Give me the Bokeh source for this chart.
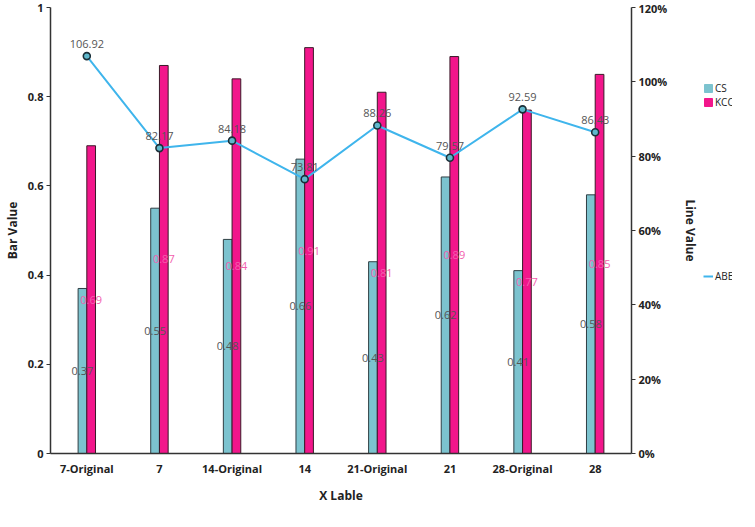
from bokeh.plotting import figure
from bokeh.layouts import row
from bokeh.models import (ColumnDataSource, FactorRange, Range1d, LinearAxis, FixedTicker,
                          PrintfTickFormatter, Legend, LegendItem)
from bokeh.transform import dodge
from bokeh.core.properties import value
from bokeh.embed import file_html
from bokeh.resources import INLINE

categories = ["7-Original", "7", "14-Original", "14", "21-Original", "21", "28-Original", "28"]
cs = [0.37, 0.55, 0.48, 0.66, 0.43, 0.62, 0.41, 0.58]
kcc = [0.69, 0.87, 0.84, 0.91, 0.81, 0.89, 0.77, 0.85]
abe = [106.92, 82.17, 84.18, 73.81, 88.26, 79.57, 92.59, 86.43]
left_ticks = [0, 0.2, 0.4, 0.6, 0.8, 1]
right_ticks = [0, 20, 40, 60, 80, 100, 120]

CS_COLOR = "#7cc3cf"
KCC_COLOR = "#f2168b"
LINE_COLOR = "#3fb5ec"
FONT = "Open Sans"
H = 506

src = ColumnDataSource(dict(
    x=categories, cs=cs, kcc=kcc, abe=abe,
    cs_mid=[v / 2 for v in cs], kcc_mid=[v / 2 for v in kcc],
    cs_lab=[f"{v:.2f}" for v in cs], kcc_lab=[f"{v:.2f}" for v in kcc],
    abe_lab=[f"{v:.2f}" for v in abe],
))

p = figure(width=702, height=H, x_range=FactorRange(*categories, range_padding=0),
           y_range=Range1d(0, 1), output_backend="svg", toolbar_location=None,
           min_border_left=40, min_border_right=62, min_border_top=7, min_border_bottom=40)
p.extra_y_ranges = {"line": Range1d(0, 120)}
p.outline_line_color = None
p.grid.grid_line_color = None
p.background_fill_color = "white"

p.vbar(x=dodge("x", -0.06, range=p.x_range), top="cs", width=0.12, source=src,
       fill_color=CS_COLOR, line_color="#2f3f44", line_width=1)
p.vbar(x=dodge("x", 0.06, range=p.x_range), top="kcc", width=0.12, source=src,
       fill_color=KCC_COLOR, line_color="#3a1a28", line_width=1)

p.text(x=dodge("x", -0.06, range=p.x_range), y="cs_mid", text="cs_lab", source=src,
       text_align="center", text_baseline="middle", text_font=value(FONT),
       text_font_size="11px", text_color="#555555")
p.text(x=dodge("x", 0.06, range=p.x_range), y="kcc_mid", text="kcc_lab", source=src,
       text_align="center", text_baseline="middle", text_font=value(FONT),
       text_font_size="11px", text_color="#f25fae")

p.line(x="x", y="abe", source=src, y_range_name="line", line_color=LINE_COLOR, line_width=2)
p.scatter(x="x", y="abe", source=src, y_range_name="line", size=7, fill_color="#5fb8cc",
          line_color="#1b2f38", line_width=1.6)
p.text(x="x", y="abe", text="abe_lab", source=src, y_range_name="line", y_offset=-8,
       text_align="center", text_baseline="bottom", text_font=value(FONT),
       text_font_size="11px", text_color="#555555")

ya = p.yaxis[0]
ya.ticker = FixedTicker(ticks=left_ticks)
ya.major_label_overrides = {0: "0", 1: "1"}
ya.axis_label = "Bar Value"

ra = LinearAxis(y_range_name="line", ticker=FixedTicker(ticks=right_ticks),
                formatter=PrintfTickFormatter(format="%d%%"), axis_label="Line Value")
p.add_layout(ra, "right")

xa = p.xaxis[0]
xa.axis_label = "X Lable"

for ax in [ya, ra, xa]:
    ax.axis_line_color = "#333333"
    ax.axis_line_width = 1.5
    ax.major_tick_line_color = "#333333"
    ax.minor_tick_line_color = None
    ax.major_tick_out = 4
    ax.major_tick_in = 0
    ax.major_label_standoff = 3
    ax.major_label_text_font = FONT
    ax.major_label_text_font_size = "11px"
    ax.major_label_text_font_style = "bold"
    ax.major_label_text_color = "#222222"
    ax.axis_label_text_font = FONT
    ax.axis_label_text_font_size = "12px"
    ax.axis_label_text_font_style = "bold"
    ax.axis_label_text_color = "#222222"
xa.major_tick_line_color = None
ya.axis_label_standoff = 4
ra.axis_label_standoff = 12
xa.axis_label_standoff = 8

# legend panel: a small companion figure holding only the legends
q = figure(width=30, height=H, x_range=Range1d(0, 1), y_range=Range1d(0, 1),
           output_backend="svg", toolbar_location=None,
           min_border_left=0, min_border_right=0, min_border_top=0, min_border_bottom=0)
q.axis.visible = False
q.grid.grid_line_color = None
q.outline_line_color = None
cs_key = q.vbar(x=[5], top=[1], width=0.1, fill_color=CS_COLOR, line_color=CS_COLOR)
kcc_key = q.vbar(x=[5], top=[1], width=0.1, fill_color=KCC_COLOR, line_color=KCC_COLOR)
abe_key = q.line(x=[5, 6], y=[1, 1], line_color=LINE_COLOR, line_width=2)

leg_style = dict(border_line_color=None, background_fill_alpha=0,
                 glyph_width=10, glyph_height=10, label_height=10, spacing=0, padding=0,
                 label_standoff=2, label_text_font=FONT, label_text_font_size="10px",
                 label_text_color="#222222", margin=0)
leg1 = Legend(items=[LegendItem(label="CS", renderers=[cs_key]),
                     LegendItem(label="KCC", renderers=[kcc_key])],
              location=(1, 344), **leg_style)
leg2 = Legend(items=[LegendItem(label="ABE", renderers=[abe_key])],
              location=(1, 170), **leg_style)
q.add_layout(leg1)
q.add_layout(leg2)

layout = row(p, q, spacing=0)
open("out.html", "w").write(file_html(layout, INLINE))
